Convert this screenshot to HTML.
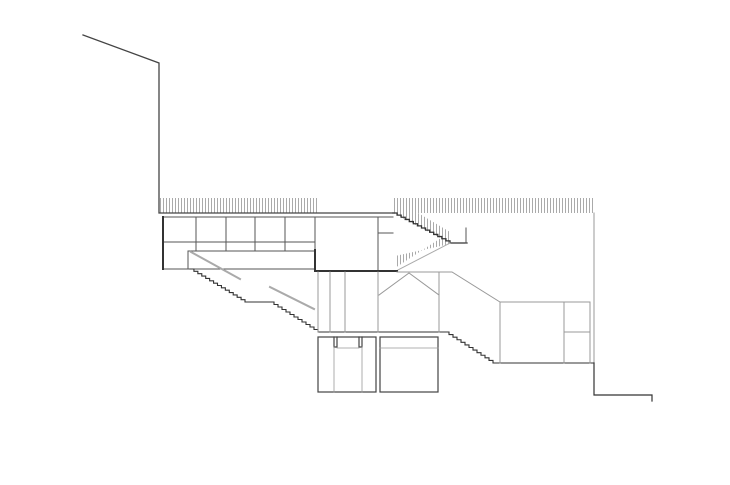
<!DOCTYPE html>
<html><head><meta charset="utf-8"><style>html,body{margin:0;padding:0;background:#fff}svg{display:block}</style></head>
<body>
<svg id="s" width="730" height="485" viewBox="0 0 730 485" fill="none" stroke-linecap="square">
<defs>
<pattern id="h" width="3" height="10" patternUnits="userSpaceOnUse"><rect width="3" height="10" fill="#fff"/><rect x="1" y="0" width="1" height="10" fill="#aaa"/></pattern>
</defs>
<rect x="160" y="198" width="157" height="15" fill="url(#h)"/>
<rect x="393" y="198" width="201" height="15" fill="url(#h)"/>
<polygon points="393,198 450,232 450,243 393,213" fill="url(#h)"/>
<polygon points="395,268 450,232 450,244 395,256" fill="url(#h)"/>
<polyline points="83,35 159,63 159,213 393,213" stroke="#444" stroke-width="1.3"/>
<path id="up" stroke="#333" stroke-width="1.3"/>
<line x1="466" y1="228" x2="466" y2="243" stroke="#555"/>
<line x1="398" y1="270" x2="450" y2="243" stroke="#aaa"/>
<g stroke="#555" stroke-width="1">
<rect x="163" y="217" width="152" height="52"/>
<line x1="196" y1="217" x2="196" y2="251"/><line x1="226" y1="217" x2="226" y2="251"/>
<line x1="255" y1="217" x2="255" y2="251"/><line x1="285" y1="217" x2="285" y2="251"/>
<line x1="163" y1="242" x2="315" y2="242"/><line x1="188" y1="251" x2="315" y2="251"/>
<line x1="188" y1="251" x2="188" y2="269"/>
<line x1="315" y1="217" x2="393" y2="217"/>
<line x1="378" y1="217" x2="378" y2="272"/><line x1="378" y1="233" x2="393" y2="233"/>
</g>
<line x1="163" y1="217" x2="163" y2="269" stroke="#333" stroke-width="2"/>
<polyline points="315,250 315,271 397,271" stroke="#333" stroke-width="2"/>
<line x1="191" y1="252" x2="240" y2="279" stroke="#aaa" stroke-width="2"/>
<line x1="270" y1="287" x2="314" y2="309" stroke="#aaa" stroke-width="2"/>
<path id="st" stroke="#333" stroke-width="1.1"/>
<g stroke="#999" stroke-width="1">
<line x1="318" y1="272" x2="318" y2="332"/><line x1="330" y1="272" x2="330" y2="332"/>
<line x1="345" y1="272" x2="345" y2="332"/><line x1="378" y1="272" x2="378" y2="332"/>
<line x1="439" y1="272" x2="439" y2="332"/>
<polyline points="379,295 409,273 439,295"/>
<polyline points="397,272 452,272 500,302 590,302 590,363"/>
<line x1="500" y1="302" x2="500" y2="363"/><line x1="564" y1="302" x2="564" y2="363"/>
<line x1="564" y1="332" x2="590" y2="332"/>
<line x1="594" y1="213" x2="594" y2="363"/>
</g>
<g stroke="#444" stroke-width="1.2">
<rect x="318" y="337" width="58" height="55"/>
<rect x="380" y="337" width="58" height="55"/>
<polyline points="334,337 334,347 337,347 337,337"/>
<polyline points="359,337 359,347 362,347 362,337"/>
</g>
<g stroke="#999" stroke-width="0.8">
<line x1="337" y1="348" x2="359" y2="348"/><line x1="380" y1="348" x2="438" y2="348"/>
<line x1="334" y1="347" x2="334" y2="392"/><line x1="362" y1="347" x2="362" y2="392"/>
</g>
<polyline points="594,363 594,395 652,395 652,401" stroke="#333" stroke-width="1.2"/>
</svg>
<script>
function steps(x1,y1,x2,y2,n){var d="",dx=(x2-x1)/n,dy=(y2-y1)/n,x=x1,y=y1;for(var i=0;i<n;i++){d+=" L"+(x+dx)+","+y;x+=dx;y+=dy;d+=" L"+x+","+y;}return d;}
var d="M190,269"+steps(190,269,245,302,14)+" L270,302"+steps(270,302,318,332,12)+" L445,332"+steps(445,332,493,363,12)+" L594,363";
document.getElementById("st").setAttribute("d",d);
document.getElementById("up").setAttribute("d","M393,213"+steps(393,213,450,243,14)+" L467,243");
</script>
</body></html>
